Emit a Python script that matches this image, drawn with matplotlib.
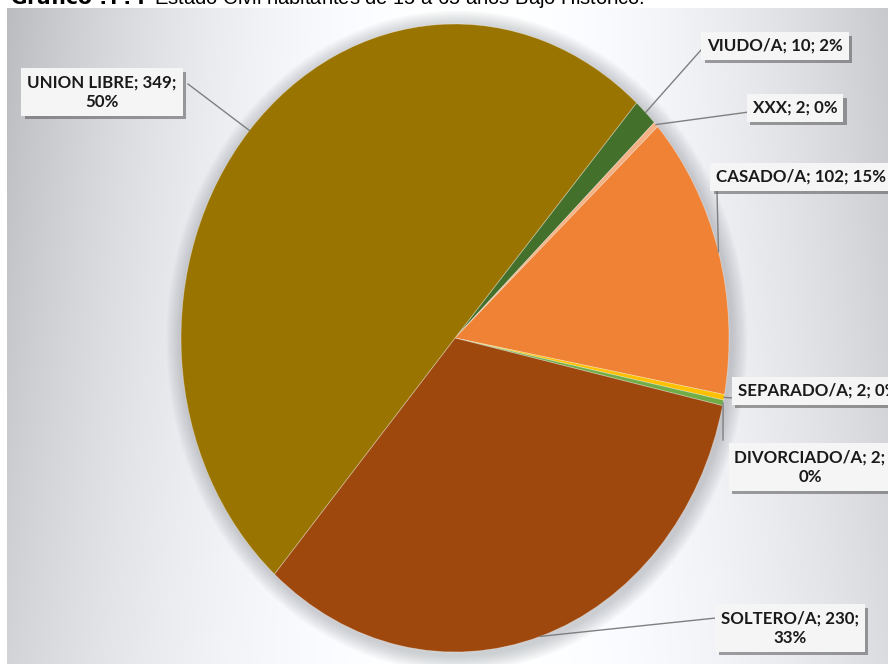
import matplotlib

matplotlib.use("Agg")

import matplotlib.pyplot as plt
import matplotlib.patheffects as pe
import numpy as np

# Estado civil, habitantes de 15 a 65 años
categorias = ["VIUDO/A", "XXX", "CASADO/A", "SEPARADO/A", "DIVORCIADO/A", "SOLTERO/A", "UNION LIBRE"]
habitantes = [10, 2, 102, 2, 2, 230, 349]
porcentajes = [2, 0, 15, 0, 0, 33, 50]
colores = ["#43702b", "#f4b183", "#ef8234", "#ffc000", "#70ad47", "#9e480e", "#9a7400"]

W, H = 888, 664

fig = plt.figure(figsize=(W / 100, H / 100), dpi=100)

# fondo con degradado gris
ax_bg = fig.add_axes([0, 0, 1, 1])
ax_bg.set_xlim(0, W)
ax_bg.set_ylim(H, 0)
ax_bg.axis("off")
xx, yy = np.meshgrid(np.arange(7, W), np.arange(8, H))
dx = (xx - 470) / 430.0
g = 1 - 0.23 * dx**2 * (1 - 0.35 * yy / H)
g = np.clip(g, 0, 1)
img = np.dstack([g, g + 0.004, np.clip(g + 0.018, 0, 1)])
img = np.clip(img, 0, 1)
ax_bg.imshow(img, extent=(7, W, H, 8), aspect="auto", interpolation="bilinear")

# sombra suave alrededor del gráfico
cx, cy, rx, ry = 455, 338, 274, 314
for k in range(10):
    e = matplotlib.patches.Ellipse((cx + 2, cy + 3), 2 * (rx + 2 + k * 1.6), 2 * (ry + 2 + k * 1.6),
                                   facecolor="#6a6f78", edgecolor="none", alpha=0.035)
    ax_bg.add_patch(e)

ax_bg.text(10, 4, r"$\bf{Gráfico\ ?.?:}$ Estado Civil habitantes de 15 a 65 años Bajo Histórico.",
           fontsize=14.5, family="Liberation Sans", va="baseline", ha="left", color="black")

# torta
ax_pie = fig.add_axes([(cx - rx) / W, (H - cy - ry) / H, 2 * rx / W, 2 * ry / H])
wedges, _ = ax_pie.pie(habitantes, colors=colores, startangle=48.5, counterclock=False,
                       radius=1, wedgeprops=dict(edgecolor=(1, 1, 1, 0.35), linewidth=0.6))
ax_pie.set_aspect("auto")
ax_pie.set_xlim(-1, 1)
ax_pie.set_ylim(-1, 1)
ax_pie.axis("off")

# etiquetas
ax_lbl = fig.add_axes([0, 0, 1, 1])
ax_lbl.set_xlim(0, W)
ax_lbl.set_ylim(H, 0)
ax_lbl.axis("off")
ax_lbl.patch.set_alpha(0)

# posicion del texto y punto de anclaje de la linea guia
posiciones = {
    "VIUDO/A": ((775, 46), (701, 50)),
    "XXX": ((795, 108), (749, 112)),
    "CASADO/A": ((801, 177), (717, 192)),
    "SEPARADO/A": ((818, 391), (733, 398)),
    "DIVORCIADO/A": ((810, 467), (723, 440)),
    "SOLTERO/A": ((790, 628), (716, 618)),
    "UNION LIBRE": ((102, 92), (188, 84)),
}
dos_lineas = {"DIVORCIADO/A", "SOLTERO/A", "UNION LIBRE"}

to_px = ax_pie.transData + ax_lbl.transData.inverted()
for w, cat, n, p in zip(wedges, categorias, habitantes, porcentajes):
    mid = np.deg2rad((w.theta1 + w.theta2) / 2)
    ex, ey = to_px.transform((np.cos(mid), np.sin(mid)))
    (tx, ty), (ax_, ay_) = posiciones[cat]
    sep = "\n" if cat in dos_lineas else " "
    label = f"{cat}; {n};{sep}{p}%"
    ax_lbl.plot([ax_, ex], [ay_, ey], color="#7f7f7f", lw=1.0)
    t = ax_lbl.text(tx, ty, label, ha="center", va="center", fontsize=12.2, family="Lato",
                    fontweight="bold", color="#1a1a1a", linespacing=1.3,
                    bbox=dict(boxstyle="square,pad=0.35", facecolor="#f5f5f5", edgecolor="none"))
    t.get_bbox_patch().set_path_effects([
        pe.SimplePatchShadow(offset=(2.5, -2.5), shadow_rgbFace="#555555", alpha=0.55),
        pe.Normal(),
    ])

fig.savefig("out.png", dpi=100)
